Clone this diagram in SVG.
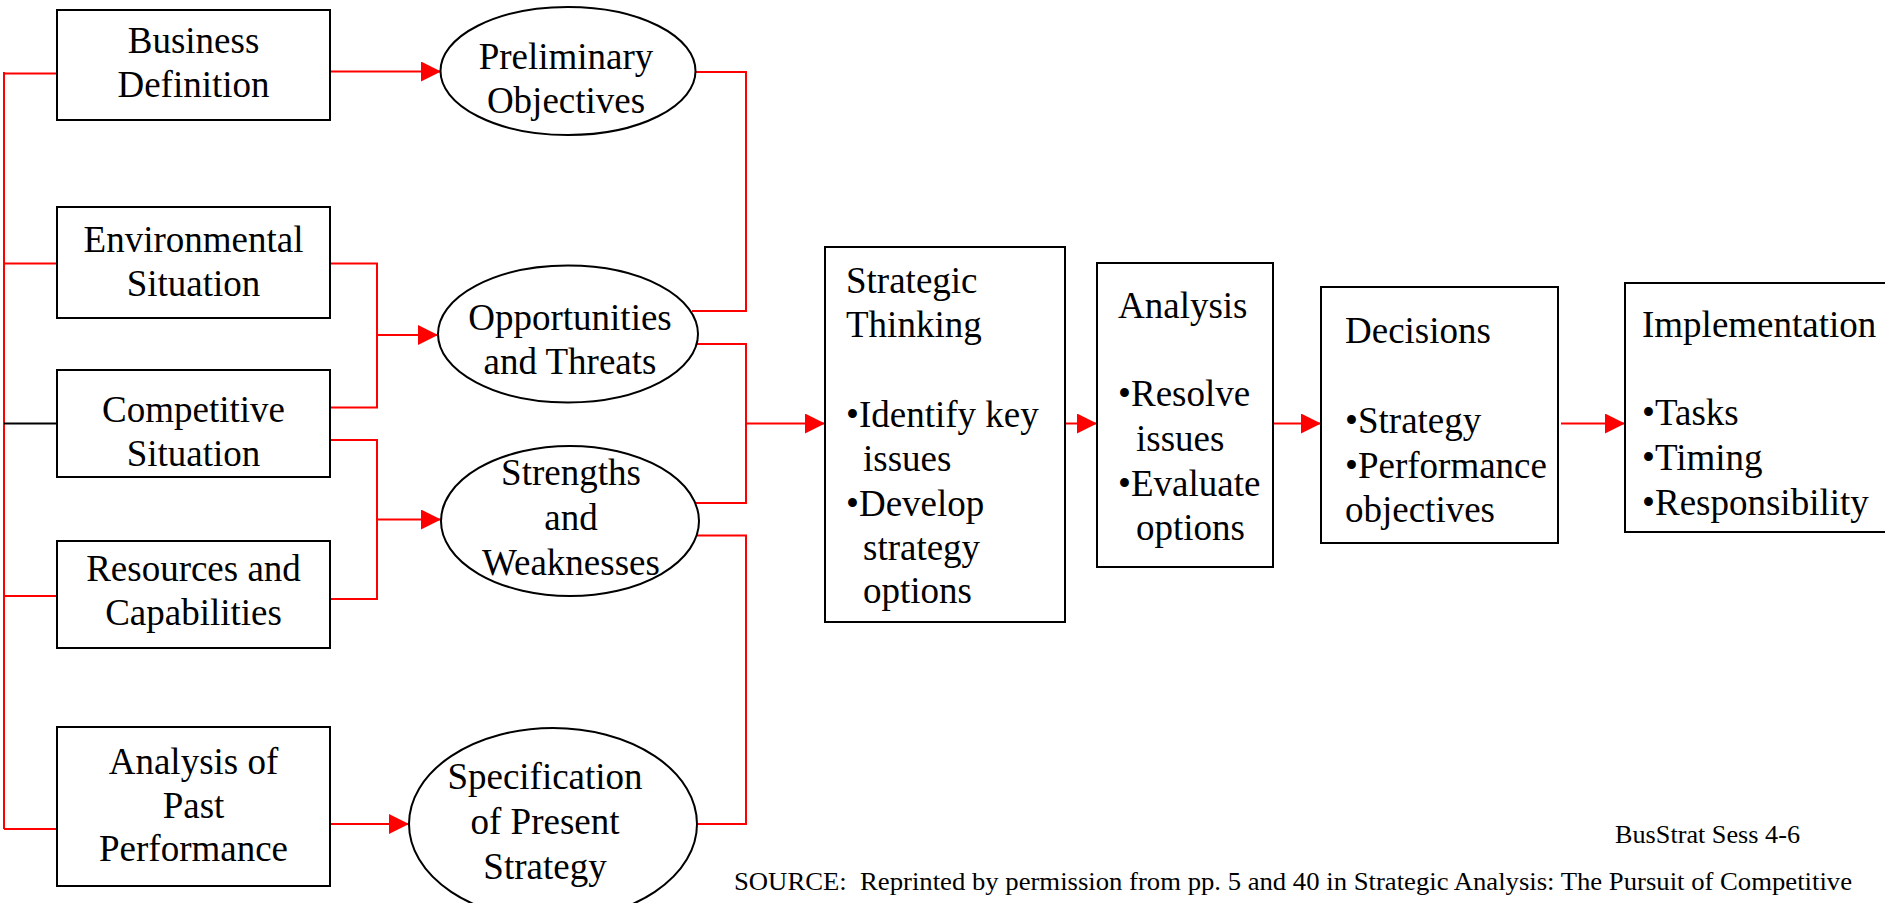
<svg xmlns="http://www.w3.org/2000/svg" width="1885" height="903" viewBox="0 0 1885 903">
<defs>
<style>
.box{fill:#fff;stroke:#000;stroke-width:2}
.ell{fill:#fff;stroke:#000;stroke-width:2}
.t{font-family:"Liberation Serif","Times New Roman",serif;font-size:37px;fill:#000}
.c{text-anchor:middle}
.ln{fill:none;stroke:#ff0000;stroke-width:2}
.bk{fill:none;stroke:#000;stroke-width:2}
.ar{fill:none;stroke:#ff0000;stroke-width:2;marker-end:url(#ah)}
.f{font-family:"Liberation Serif","Times New Roman",serif;font-size:25px;fill:#000}
</style>
<marker id="ah" markerUnits="userSpaceOnUse" markerWidth="20" markerHeight="20" refX="20" refY="10" orient="auto">
<path d="M0,0 L20,10 L0,20 Z" fill="#ff0000"/>
</marker>
</defs>
<rect width="1885" height="903" fill="#fff"/>
<g id="connectors">
<path class="ln" d="M4,72 V829"/>
<path class="ln" d="M4,73.5 H57"/>
<path class="ln" d="M4,263.5 H57"/>
<path class="bk" d="M4,423.5 H57"/>
<path class="ln" d="M4,596 H57"/>
<path class="ln" d="M4,829 H57"/>
<path class="ar" d="M330,71.5 H441"/>
<path class="ln" d="M330,263.5 H377 V407.5 H330"/>
<path class="ar" d="M377,335 H438"/>
<path class="ln" d="M330,440 H377 V599 H330"/>
<path class="ar" d="M377,519.5 H441"/>
<path class="ar" d="M330,824 H409"/>
<path class="ln" d="M696,72 H746 V311 H692"/>
<path class="ln" d="M696,344 H746 V503 H695"/>
<path class="ar" d="M746,423.5 H825"/>
<path class="ln" d="M697,535.5 H746 V824 H697"/>
<path class="ar" d="M1065,423.5 H1097"/>
<path class="ar" d="M1273,423.5 H1321"/>
<path class="ar" d="M1561,423.5 H1625"/>
</g>
<g id="business-definition">
<rect class="box" x="57" y="10" width="273" height="110"/>
<text class="t c" x="193.5" y="53">Business</text>
<text class="t c" x="193.5" y="97">Definition</text>
</g>
<g id="environmental-situation">
<rect class="box" x="57" y="207" width="273" height="111"/>
<text class="t c" x="193.5" y="252">Environmental</text>
<text class="t c" x="193.5" y="296">Situation</text>
</g>
<g id="competitive-situation">
<rect class="box" x="57" y="370" width="273" height="107"/>
<text class="t c" x="193.5" y="422">Competitive</text>
<text class="t c" x="193.5" y="466">Situation</text>
</g>
<g id="resources-capabilities">
<rect class="box" x="57" y="541" width="273" height="107"/>
<text class="t c" x="193.5" y="581">Resources and</text>
<text class="t c" x="193.5" y="625">Capabilities</text>
</g>
<g id="analysis-past-performance">
<rect class="box" x="57" y="727" width="273" height="159"/>
<text class="t c" x="193.5" y="774">Analysis of</text>
<text class="t c" x="193.5" y="818">Past</text>
<text class="t c" x="193.5" y="861">Performance</text>
</g>
<g id="preliminary-objectives">
<ellipse class="ell" cx="568" cy="71" rx="127.5" ry="64"/>
<text class="t c" x="566" y="69">Preliminary</text>
<text class="t c" x="566" y="113">Objectives</text>
</g>
<g id="opportunities-threats">
<ellipse class="ell" cx="568" cy="334" rx="130" ry="68.5"/>
<text class="t c" x="570" y="330">Opportunities</text>
<text class="t c" x="570" y="374">and Threats</text>
</g>
<g id="strengths-weaknesses">
<ellipse class="ell" cx="570" cy="521" rx="129" ry="75"/>
<text class="t c" x="571" y="485">Strengths</text>
<text class="t c" x="571" y="530">and</text>
<text class="t c" x="571" y="575">Weaknesses</text>
</g>
<g id="specification-present-strategy">
<ellipse class="ell" cx="553" cy="824" rx="144" ry="96"/>
<text class="t c" x="545" y="789">Specification</text>
<text class="t c" x="545" y="834">of Present</text>
<text class="t c" x="545" y="879">Strategy</text>
</g>
<g id="strategic-thinking">
<rect class="box" x="825" y="247" width="240" height="375"/>
<text class="t" x="846" y="293">Strategic</text>
<text class="t" x="846" y="337">Thinking</text>
<text class="t" x="846" y="427">•Identify key</text>
<text class="t" x="863" y="471">issues</text>
<text class="t" x="846" y="516">•Develop</text>
<text class="t" x="863" y="560">strategy</text>
<text class="t" x="863" y="603">options</text>
</g>
<g id="analysis">
<rect class="box" x="1097" y="263" width="176" height="304"/>
<text class="t" x="1118" y="318">Analysis</text>
<text class="t" x="1118" y="406">•Resolve</text>
<text class="t" x="1136" y="451">issues</text>
<text class="t" x="1118" y="496">•Evaluate</text>
<text class="t" x="1136" y="540">options</text>
</g>
<g id="decisions">
<rect class="box" x="1321" y="287" width="237" height="256"/>
<text class="t" x="1345" y="343">Decisions</text>
<text class="t" x="1345" y="433">•Strategy</text>
<text class="t" x="1345" y="478">•Performance</text>
<text class="t" x="1345" y="522">objectives</text>
</g>
<g id="implementation">
<rect class="box" x="1625" y="283" width="270" height="249"/>
<text class="t" x="1642" y="337">Implementation</text>
<text class="t" x="1642" y="425">•Tasks</text>
<text class="t" x="1642" y="470">•Timing</text>
<text class="t" x="1642" y="515">•Responsibility</text>
</g>
<g id="footer">
<text class="f" x="1615" y="843" textLength="185" lengthAdjust="spacingAndGlyphs">BusStrat Sess 4-6</text>
<text class="f" x="734" y="890" textLength="1118" lengthAdjust="spacingAndGlyphs" xml:space="preserve">SOURCE:  Reprinted by permission from pp. 5 and 40 in Strategic Analysis: The Pursuit of Competitive</text>
</g>
</svg>
